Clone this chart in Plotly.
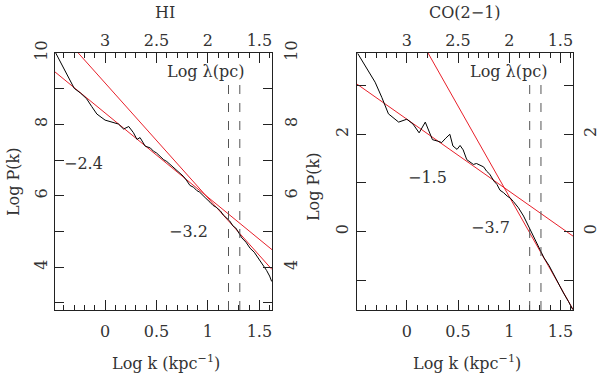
import plotly.graph_objects as go

# HI power spectrum
hi_logk = [-0.48, -0.30, -0.24, -0.18, -0.13, -0.08, 0.00, 0.065, 0.13, 0.18, 0.23, 0.275,
           0.31, 0.34, 0.39, 0.44, 0.47, 0.50, 0.53, 0.57, 0.60, 0.63, 0.66, 0.70, 0.73,
           0.76, 0.79, 0.825, 0.86, 0.89, 0.92, 0.95, 0.98, 1.02, 1.05, 1.08, 1.12, 1.15,
           1.18, 1.21, 1.245, 1.27, 1.29, 1.33, 1.37, 1.41, 1.45, 1.50, 1.54, 1.57, 1.60, 1.62]
hi_logp = [10.0, 9.01, 8.88, 8.72, 8.50, 8.29, 8.12, 8.06, 8.01, 7.87, 7.94, 7.77,
           7.58, 7.63, 7.39, 7.34, 7.25, 7.20, 7.11, 7.01, 6.96, 6.88, 6.80, 6.72, 6.62,
           6.55, 6.44, 6.29, 6.24, 6.15, 6.10, 6.00, 5.93, 5.82, 5.73, 5.68, 5.58, 5.46,
           5.39, 5.30, 5.15, 5.10, 5.01, 4.82, 4.70, 4.53, 4.42, 4.20, 4.06, 3.91, 3.75, 3.60]

# CO(2-1) power spectrum
co_logk = [-0.48, -0.39, -0.31, -0.245, -0.18, -0.08, 0.00, 0.06, 0.12, 0.18, 0.22, 0.25,
           0.30, 0.34, 0.38, 0.42, 0.45, 0.49, 0.52, 0.55, 0.585, 0.62, 0.65, 0.68, 0.72,
           0.75, 0.78, 0.81, 0.85, 0.88, 0.91, 0.945, 0.98, 1.01, 1.04, 1.09, 1.14, 1.19,
           1.24, 1.30, 1.34, 1.39, 1.435, 1.48, 1.53, 1.58, 1.62]
co_logp = [3.66, 3.36, 3.07, 2.76, 2.42, 2.25, 2.31, 2.21, 2.03, 2.25, 2.06, 1.89,
           1.86, 1.83, 1.92, 2.00, 1.76, 1.69, 1.77, 1.68, 1.48, 1.42, 1.38, 1.40, 1.35,
           1.33, 1.24, 1.18, 1.04, 0.97, 0.85, 0.80, 0.73, 0.69, 0.62, 0.49, 0.32, 0.11,
           -0.10, -0.34, -0.54, -0.70, -0.89, -1.05, -1.26, -1.44, -1.60]

# fitted power laws: (slope, intercept at log k = 0)
hi_fits = [(-2.36, 8.32), (-3.22, 9.16)]
co_fits = [(-1.48, 2.31), (-3.72, 4.44)]
fit_labels_hi = [("\u22122.4", -0.21, 6.91), ("\u22123.2", 0.815, 5.0)]
fit_labels_co = [("\u22121.5", 0.206, 1.11), ("\u22123.7", 0.82, 0.08)]

dash_k = [1.2, 1.31]
xr = [-0.487, 1.623]
hi_yr = [2.8, 10.0]
co_yr = [-1.61, 3.67]

FONT = "DejaVu Serif"
TXT = "#333333"
AX = "#222222"
FS = 16

fig = go.Figure()

panels = [
    dict(x="x", y="y", k=hi_logk, p=hi_logp, fits=hi_fits),
    dict(x="x3", y="y3", k=co_logk, p=co_logp, fits=co_fits),
]
for pn in panels:
    for s, b in pn["fits"]:
        fig.add_trace(go.Scatter(x=xr, y=[b + s * xr[0], b + s * xr[1]], mode="lines",
                                 line=dict(color="#e8202a", width=1), xaxis=pn["x"], yaxis=pn["y"],
                                 showlegend=False, hoverinfo="skip"))
    fig.add_trace(go.Scatter(x=pn["k"], y=pn["p"], mode="lines",
                             line=dict(color="black", width=1), xaxis=pn["x"], yaxis=pn["y"],
                             showlegend=False))
    for dk in dash_k:
        fig.add_shape(type="line", xref=pn["x"], yref=pn["y"] + " domain", x0=dk, x1=dk, y0=0, y1=0.88,
                      line=dict(color="#555555", width=1, dash="dash"))

# dummy traces so the overlay axes get drawn
for xa, ya in [("x2", "y2"), ("x4", "y4")]:
    fig.add_trace(go.Scatter(x=[None], y=[None], xaxis=xa, yaxis=ya, showlegend=False))

ydom = [1 - 310 / 376, 1 - 53 / 376]
dom_l = [55 / 600, 272 / 600]
dom_r = [357 / 600, 573 / 600]

tick_font = dict(family=FONT, size=FS, color=TXT)
minor_k = [round(-0.4 + 0.1 * i, 1) for i in range(21)]


def xbottom(dom, anchor):
    return dict(domain=dom, anchor=anchor, range=xr, tickvals=[0, 0.5, 1, 1.5],
                ticktext=["0", "0.5", "1", "1.5"], ticks="inside", ticklen=10, tickcolor=AX,
                minor=dict(ticks="inside", ticklen=5, tickvals=minor_k, tickcolor=AX),
                showline=True, linecolor=AX, linewidth=1, showgrid=False, zeroline=False,
                tickfont=tick_font, ticklabelstandoff=7, automargin=False)


def xtop(over, anchor):
    return dict(overlaying=over, anchor=anchor, side="top", range=[3 - xr[0], 3 - xr[1]],
                tickvals=[3, 2.5, 2, 1.5], ticktext=["3", "2.5", "2", "1.5"], ticks="inside",
                ticklen=10, tickcolor=AX,
                minor=dict(ticks="inside", ticklen=5, tickvals=[round(3 - v, 1) for v in minor_k],
                           tickcolor=AX),
                showline=True, linecolor=AX, linewidth=1, showgrid=False, zeroline=False,
                tickfont=tick_font, ticklabelstandoff=0, automargin=False)


def yax(rng, major, minor, anchor, side, over=None, standoff=4):
    d = dict(domain=ydom, anchor=anchor, side=side, range=rng, tickvals=major,
             ticktext=[str(v) for v in major],
             ticks="inside", ticklen=9, tickcolor=AX, tickangle=-90,
             minor=dict(ticks="inside", ticklen=9, tickvals=minor, tickcolor=AX),
             showline=True, linecolor=AX,
             linewidth=1, showgrid=False, zeroline=False, tickfont=tick_font,
             ticklabelstandoff=standoff, automargin=False)
    if over:
        d["overlaying"] = over
        d.pop("domain")
    return d


hi_major = [4, 6, 8, 10]
hi_minor = [3, 5, 7, 9]
co_major = [0, 2]
co_minor = [-1, 1, 3]

fig.update_layout(
    width=600, height=376, margin=dict(l=0, r=0, t=0, b=0),
    paper_bgcolor="white", plot_bgcolor="white",
    font=dict(family=FONT, size=FS, color=TXT),
    xaxis=xbottom(dom_l, "y"),
    xaxis2=xtop("x", "y"),
    xaxis3=xbottom(dom_r, "y3"),
    xaxis4=xtop("x3", "y3"),
    yaxis=yax(hi_yr, hi_major, hi_minor, "x", "left", standoff=1),
    yaxis2=yax(hi_yr, hi_major, hi_minor, "x", "right", over="y", standoff=5),
    yaxis3=yax(co_yr, co_major, co_minor, "x3", "left", standoff=2),
    yaxis4=yax(co_yr, co_major, co_minor, "x3", "right", over="y3", standoff=3),
)


def paper_text(txt, px, py, angle=0):
    return dict(text=txt, x=px / 600, y=1 - py / 376, xref="paper", yref="paper",
                xanchor="center", yanchor="middle", showarrow=False, textangle=angle)


ann = []
for txt, ax_, ay_ in fit_labels_hi:
    ann.append(dict(text=txt, x=ax_, y=ay_, xref="x", yref="y", showarrow=False))
for txt, ax_, ay_ in fit_labels_co:
    ann.append(dict(text=txt, x=ax_, y=ay_, xref="x3", yref="y3", showarrow=False))
ann += [
    dict(text="Log \u03bb(pc)", x=0.98, y=9.49, xref="x", yref="y", showarrow=False),
    dict(text="Log \u03bb(pc)", x=0.99, y=3.30, xref="x3", yref="y3", showarrow=False),
    paper_text("HI", 165, 13),
    paper_text("CO(2\u22121)", 465, 13),
    paper_text("Log k (kpc<sup>\u22121</sup>)", 166, 362),
    paper_text("Log k (kpc<sup>\u22121</sup>)", 467, 362),
    paper_text("Log P(k)", 13, 182, -90),
    paper_text("Log P(k)", 313, 186, -90),
]
fig.update_layout(annotations=ann)

fig.write_html("out.html", post_script="document.body.style.margin='0';",
               config={"displayModeBar": False})
